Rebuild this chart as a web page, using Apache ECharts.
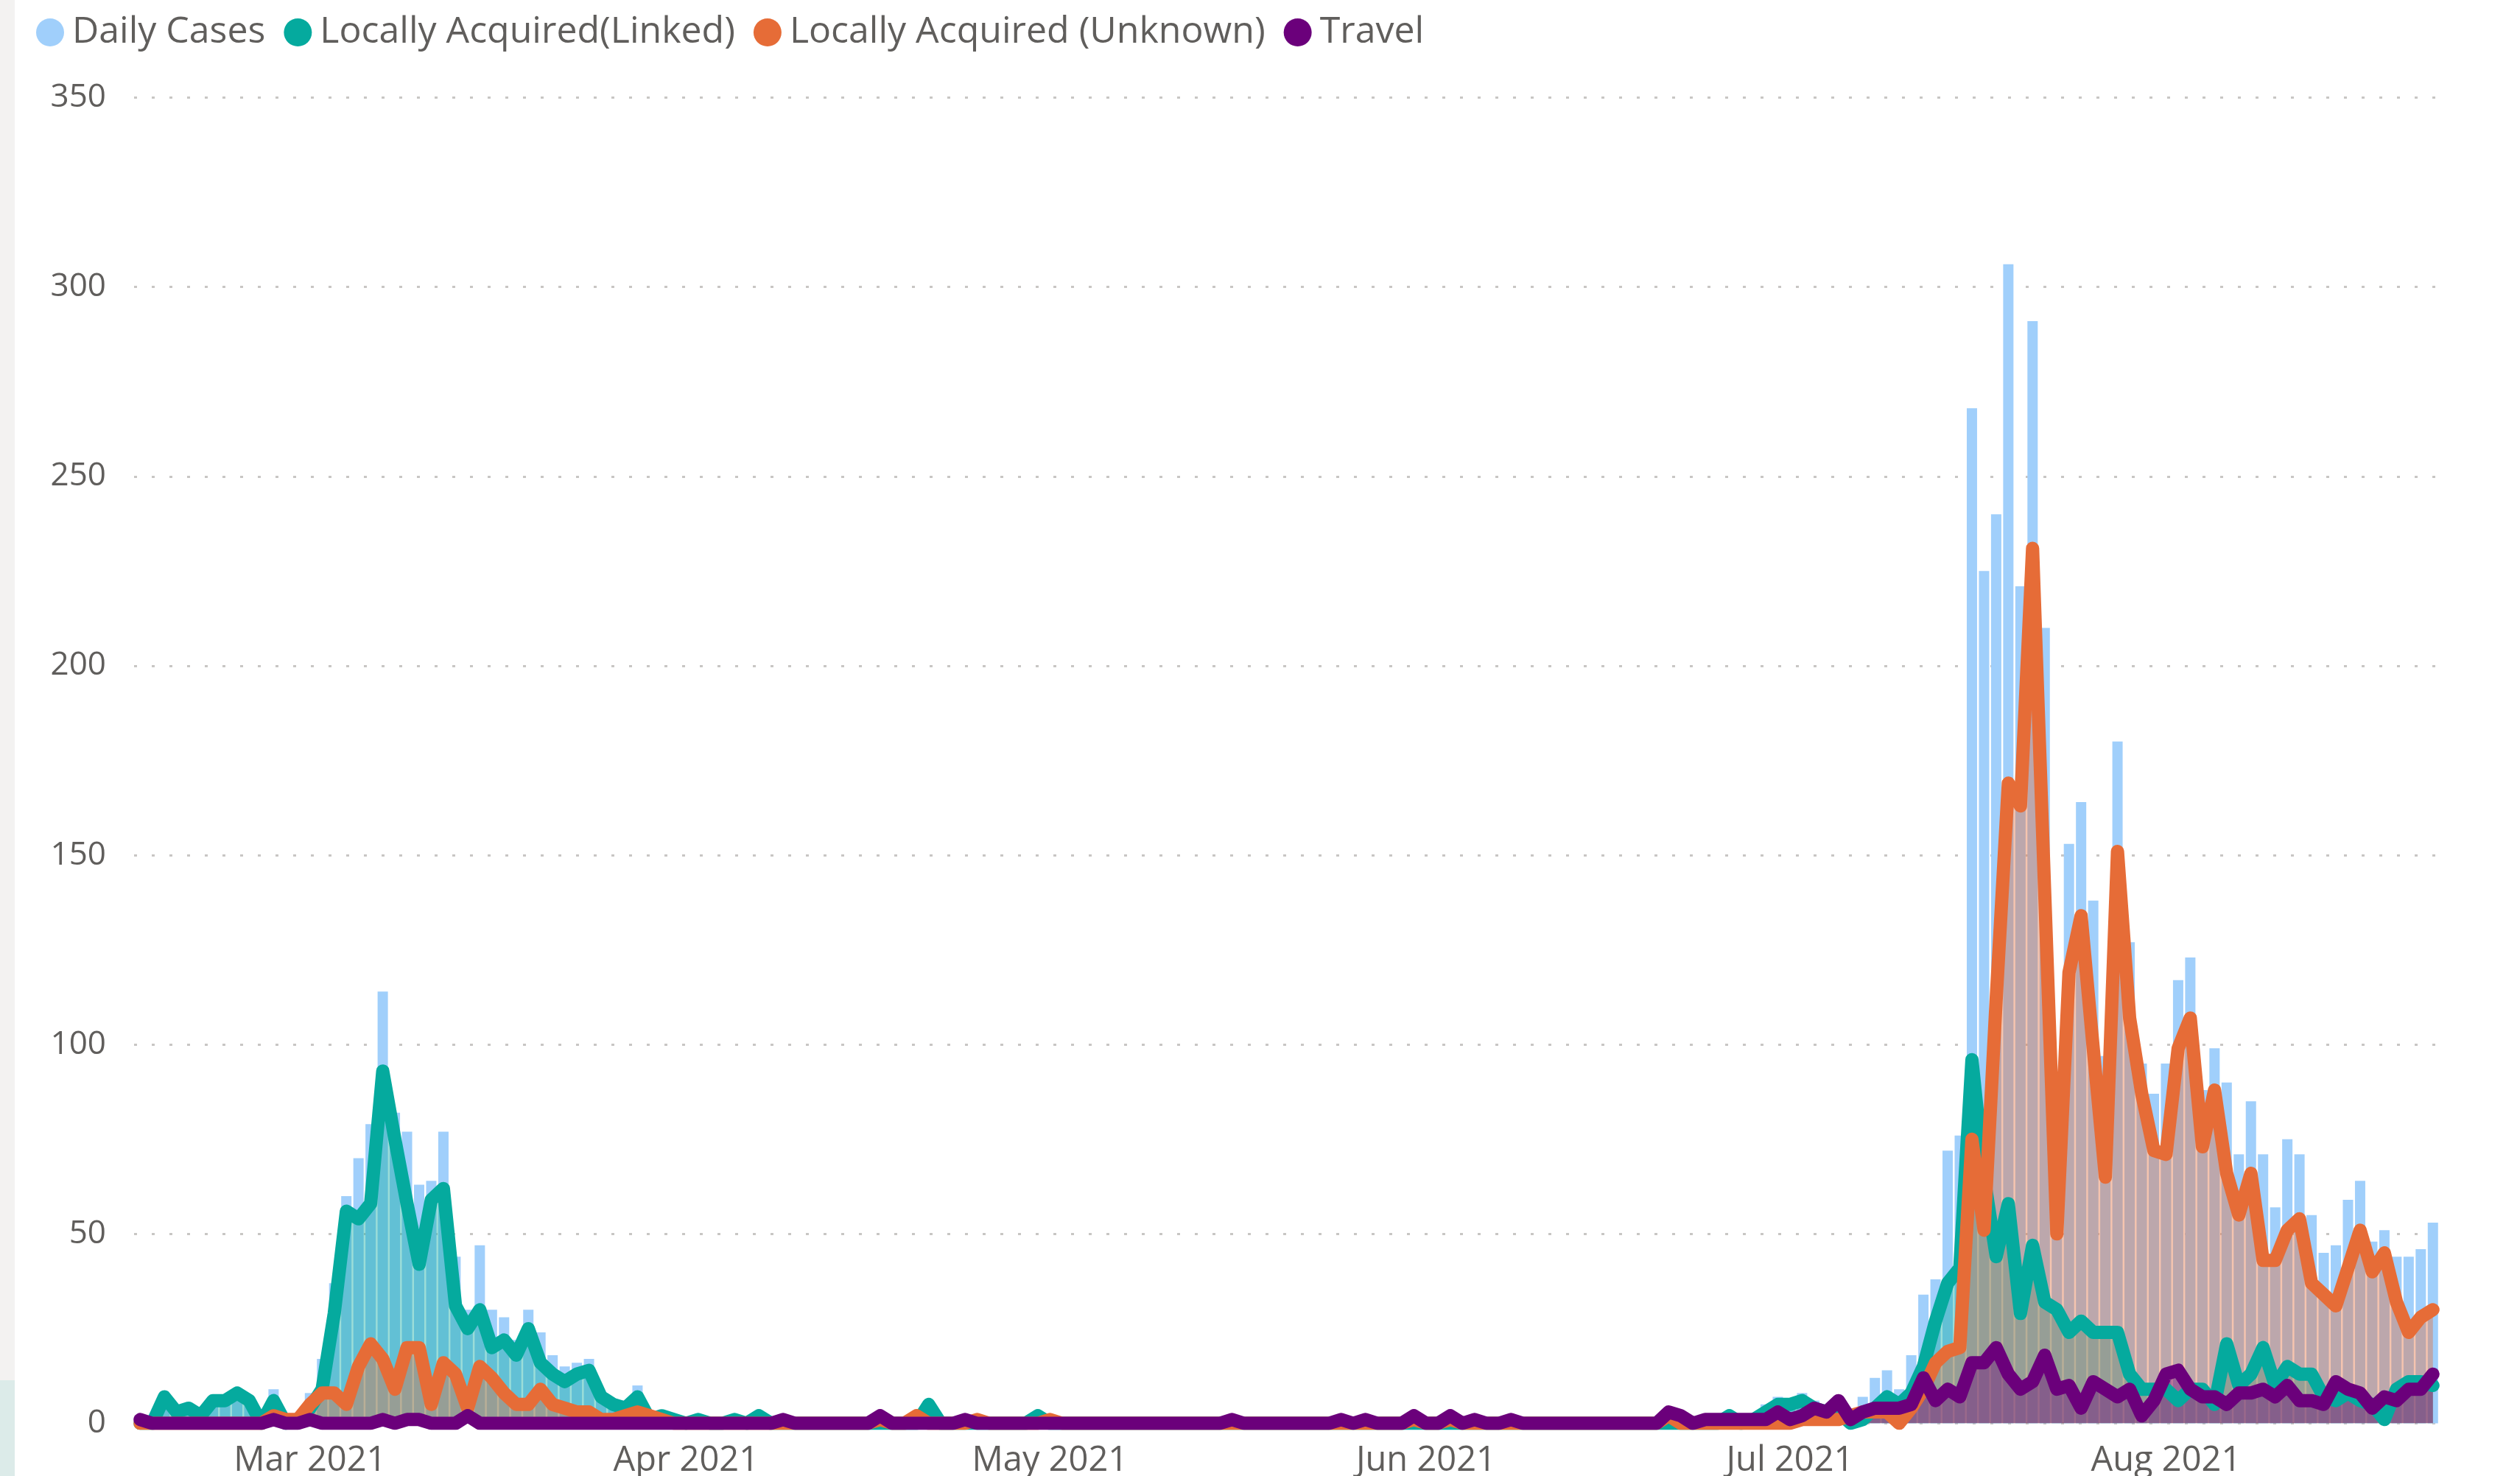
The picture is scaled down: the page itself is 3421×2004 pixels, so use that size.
<!DOCTYPE html>
<html>
<head>
<meta charset="utf-8">
<title>Daily Cases</title>
<script src="https://cdn.jsdelivr.net/npm/echarts@6/dist/echarts.min.js"></script>
<style>
  html, body { margin: 0; padding: 0; background: #fff; }
  #main { width: 3421px; height: 2004px; }
</style>
</head>
<body>
<div id="main"></div>
<script>
// one value per day, 15 Feb 2021 .. 23 Aug 2021
const startDate = '2021-02-15';
const dayCount = 190;
const monthNames = ['Jan', 'Feb', 'Mar', 'Apr', 'May', 'Jun', 'Jul', 'Aug', 'Sep', 'Oct', 'Nov', 'Dec'];
const yTicks = [0, 50, 100, 150, 200, 250, 300, 350];

const dailyCases = [
  1, 0, 7, 3, 4, 2, 6, 6, 8, 6,
  1, 9, 1, 2, 8, 17, 37, 60, 70, 79,
  114, 82, 77, 63, 64, 77, 44, 30, 47, 30,
  28, 22, 30, 24, 18, 15, 16, 17, 8, 6,
  6, 10, 3, 3, 1, 0, 1, 0, 0, 1,
  0, 2, 0, 1, 0, 0, 0, 0, 0, 0,
  0, 2, 0, 0, 2, 5, 0, 0, 1, 1,
  0, 0, 0, 0, 2, 1, 0, 0, 0, 0,
  0, 0, 0, 0, 0, 0, 0, 0, 0, 0,
  1, 0, 0, 0, 0, 0, 0, 0, 0, 1,
  0, 1, 0, 0, 0, 2, 0, 0, 2, 0,
  1, 0, 0, 1, 0, 0, 0, 0, 0, 0,
  0, 0, 0, 0, 0, 0, 4, 2, 0, 1,
  1, 3, 1, 2, 5, 7, 6, 8, 6, 5,
  6, 4, 7, 12, 14, 9, 18, 34, 38, 72,
  76, 268, 225, 240, 306, 221, 291, 210, 50, 153,
  164, 138, 97, 180, 127, 95, 87, 95, 117, 123,
  88, 99, 90, 71, 85, 71, 57, 75, 71, 55,
  45, 47, 59, 64, 48, 51, 44, 44, 46, 53
];

const linked = [
  0, 0, 7, 3, 4, 2, 6, 6, 8, 6,
  0, 6, 0, 1, 4, 9, 29, 56, 54, 58,
  93, 75, 58, 42, 59, 62, 31, 25, 30, 20,
  22, 18, 25, 16, 13, 11, 13, 14, 7, 5,
  4, 7, 1, 2, 1, 0, 1, 0, 0, 1,
  0, 2, 0, 0, 0, 0, 0, 0, 0, 0,
  0, 0, 0, 0, 0, 5, 0, 0, 0, 0,
  0, 0, 0, 0, 2, 0, 0, 0, 0, 0,
  0, 0, 0, 0, 0, 0, 0, 0, 0, 0,
  0, 0, 0, 0, 0, 0, 0, 0, 0, 0,
  0, 0, 0, 0, 0, 0, 0, 0, 0, 0,
  0, 0, 0, 0, 0, 0, 0, 0, 0, 0,
  0, 0, 0, 0, 0, 0, 0, 0, 0, 0,
  0, 2, 0, 1, 3, 5, 5, 6, 4, 3,
  3, 0, 1, 4, 7, 5, 8, 15, 27, 37,
  41, 96, 65, 44, 58, 29, 47, 32, 30, 24,
  27, 24, 24, 24, 13, 9, 9, 9, 6, 9,
  9, 5, 21, 10, 13, 20, 10, 15, 13, 13,
  7, 6, 8, 6, 5, 1, 9, 11, 11, 10
];

const unknown = [
  0, 0, 0, 0, 0, 0, 0, 0, 0, 0,
  0, 2, 1, 1, 5, 8, 8, 5, 15, 21,
  17, 9, 20, 20, 5, 16, 13, 4, 15, 12,
  8, 5, 5, 9, 5, 4, 3, 3, 1, 1,
  2, 3, 2, 1, 0, 0, 0, 0, 0, 0,
  0, 0, 0, 0, 0, 0, 0, 0, 0, 0,
  0, 1, 0, 0, 2, 0, 0, 0, 0, 1,
  0, 0, 0, 0, 0, 1, 0, 0, 0, 0,
  0, 0, 0, 0, 0, 0, 0, 0, 0, 0,
  0, 0, 0, 0, 0, 0, 0, 0, 0, 0,
  0, 0, 0, 0, 0, 1, 0, 0, 1, 0,
  0, 0, 0, 0, 0, 0, 0, 0, 0, 0,
  0, 0, 0, 0, 0, 0, 2, 0, 0, 0,
  0, 0, 0, 0, 0, 0, 0, 1, 1, 1,
  1, 2, 3, 3, 3, 0, 4, 9, 16, 19,
  20, 75, 51, 112, 169, 163, 231, 140, 50, 119,
  134, 99, 65, 151, 107, 87, 72, 71, 99, 107,
  73, 88, 66, 55, 66, 43, 43, 51, 54, 37,
  34, 31, 41, 51, 40, 45, 32, 24, 28, 30
];

const travel = [
  1, 0, 0, 0, 0, 0, 0, 0, 0, 0,
  0, 1, 0, 0, 1, 0, 0, 0, 0, 0,
  1, 0, 1, 1, 0, 0, 0, 2, 0, 0,
  0, 0, 0, 0, 0, 0, 0, 0, 0, 0,
  0, 0, 0, 0, 0, 0, 0, 0, 0, 0,
  0, 0, 0, 1, 0, 0, 0, 0, 0, 0,
  0, 2, 0, 0, 0, 0, 0, 0, 1, 0,
  0, 0, 0, 0, 0, 0, 0, 0, 0, 0,
  0, 0, 0, 0, 0, 0, 0, 0, 0, 0,
  1, 0, 0, 0, 0, 0, 0, 0, 0, 1,
  0, 1, 0, 0, 0, 2, 0, 0, 2, 0,
  1, 0, 0, 1, 0, 0, 0, 0, 0, 0,
  0, 0, 0, 0, 0, 0, 3, 2, 0, 1,
  1, 1, 1, 1, 1, 3, 1, 2, 4, 3,
  6, 1, 3, 4, 4, 4, 5, 12, 6, 9,
  7, 16, 16, 20, 13, 9, 11, 18, 9, 10,
  4, 11, 9, 7, 9, 2, 6, 13, 14, 9,
  7, 7, 5, 8, 8, 9, 7, 10, 6, 6,
  5, 11, 9, 8, 4, 7, 6, 9, 9, 13
];

const seriesNames = ['Daily Cases', 'Locally Acquired(Linked)', 'Locally Acquired (Unknown)', 'Travel'];
const colors = ['#A0CFFB', '#05AA9E', '#E66C37', '#6B007B'];

// category labels: ISO dates
const days = [];
const d0 = new Date(startDate + 'T00:00:00Z');
for (let k = 0; k < dayCount; k++) {
  const d = new Date(d0.getTime() + k * 86400000);
  days.push(d.toISOString().slice(0, 10));
}

const chart = echarts.init(document.getElementById('main'), null, { renderer: 'canvas' });

const font = '"Segoe UI", "Open Sans", sans-serif';
const grey = '#605E5C';

function areaSeries(name, data, color) {
  return {
    name, type: 'line', data, color,
    symbol: 'none', silent: true,
    lineStyle: { width: 0 },
    areaStyle: { color, opacity: 0.4 },
    z: 2
  };
}
function lineSeries(name, data, color) {
  return {
    name, type: 'line', data, color,
    symbol: 'none', silent: true,
    lineStyle: { width: 18, color, cap: 'round', join: 'round' },
    z: 3
  };
}

chart.setOption({
  animation: false,
  backgroundColor: '#ffffff',
  textStyle: { fontFamily: font },
  graphic: [
    { type: 'rect', left: 0, top: 0, shape: { width: 20, height: 2004 }, style: { fill: '#F3F2F1' }, z: -1 },
    { type: 'rect', left: 0, top: 1874, shape: { width: 20, height: 130 }, style: { fill: '#DCEBE9' }, z: -1 }
  ],
  legend: {
    left: 44,
    top: 14,
    itemWidth: 38,
    itemHeight: 38,
    itemGap: 25,
    icon: 'circle',
    data: seriesNames,
    textStyle: { fontSize: 50, color: grey, fontFamily: font, padding: [0, 0, 0, 6] }
  },
  grid: { left: 182, right: 110, top: 132.5, bottom: 71.5, outerBoundsMode: 'none' },
  xAxis: {
    type: 'category',
    data: days,
    boundaryGap: true,
    axisLine: { show: false },
    axisTick: { show: false },
    axisLabel: {
      interval: (idx, val) => val.slice(8) === '01',
      formatter: val => monthNames[+val.slice(5, 7) - 1] + ' ' + val.slice(0, 4),
      fontSize: 47,
      color: grey,
      margin: 28
    }
  },
  yAxis: {
    type: 'value',
    min: yTicks[0],
    max: yTicks[yTicks.length - 1],
    interval: 50,
    axisLine: { show: false },
    axisTick: { show: false },
    axisLabel: { fontSize: 44, color: grey, margin: 38 },
    splitLine: { lineStyle: { color: '#C8C6C4', width: 3, type: [4, 20] } }
  },
  series: [
    {
      name: seriesNames[0], type: 'bar', data: dailyCases, color: colors[0],
      barCategoryGap: '15%', silent: true, z: 1
    },
    areaSeries(seriesNames[1], linked, colors[1]),
    areaSeries(seriesNames[2], unknown, colors[2]),
    areaSeries(seriesNames[3], travel, colors[3]),
    lineSeries(seriesNames[1], linked, colors[1]),
    lineSeries(seriesNames[2], unknown, colors[2]),
    lineSeries(seriesNames[3], travel, colors[3])
  ]
});
</script>
</body>
</html>
